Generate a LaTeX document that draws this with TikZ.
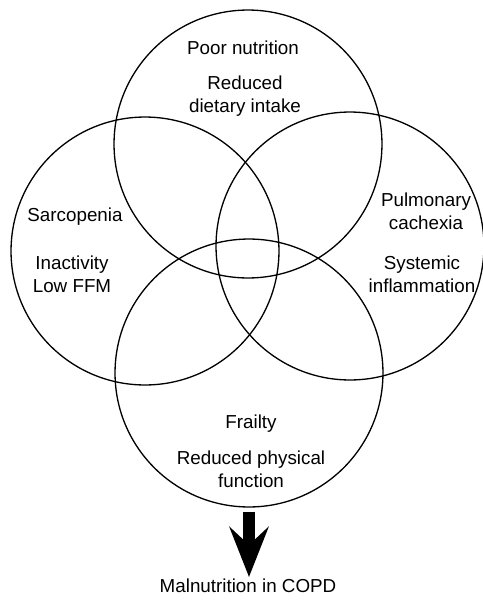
\documentclass[tikz,border=0pt]{standalone}
\usepackage{fontspec}
\setmainfont{Liberation Sans}
\usetikzlibrary{arrows.meta}
\newcommand{\pxUnit}{0.02cm}
\newcommand{\vennSize}{5.36cm}
\newcommand{\labelFont}{\fontsize{10.7}{13.1}\selectfont}
\newcommand{\arrowWidth}{0.26cm}

\begin{document}
\begin{tikzpicture}[x=\pxUnit, y=-\pxUnit,
  venn/.style={draw, circle, line width=0.75pt, minimum size=\vennSize, inner sep=0pt},
  vennlabel/.style={align=center, font=\labelFont, inner sep=0pt},
  bigarrow/.style={line width=\arrowWidth, -{Stealth[length=1cm, width=0.78cm, inset=0.36cm]}}]
\useasboundingbox (0,0) rectangle (483,600);
% the four overlapping circles
\node[venn] (nutrition) at (248,144) {};
\node[venn] (sarcopenia) at (145,251) {};
\node[venn] (cachexia) at (350,246) {};
\node[venn] (frailty) at (249,373) {};

\node[vennlabel] (poor) at (243,48) {Poor nutrition};
\node[vennlabel] (intake) at (245,96) {Reduced\\dietary intake};
\node[vennlabel] (sarco) at (75,217) {Sarcopenia};
\node[vennlabel] (inact) at (72,274) {Inactivity\\Low FFM};
\node[vennlabel] (pulm) at (426,211) {Pulmonary\\cachexia};
\node[vennlabel] (infl) at (422,274) {Systemic\\inflammation};
\node[vennlabel] (frail) at (251,424) {Frailty};
\node[vennlabel] (phys) at (251,469) {Reduced physical\\function};
\node[vennlabel, anchor=north] (malnut) at (248,579) {Malnutrition in COPD};

\draw[bigarrow, shorten <=0.08cm, shorten >=0.04cm] (frailty.south) -- (frailty.south |- malnut.north);
\end{tikzpicture}
\end{document}
